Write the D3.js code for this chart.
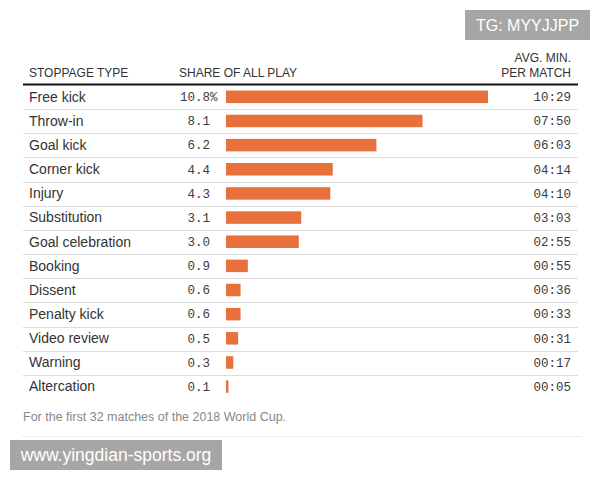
<!DOCTYPE html>
<html>
<head>
<meta charset="utf-8">
<script src="https://cdn.jsdelivr.net/npm/d3@7"></script>
<style>
  body { margin: 0; background: #fff; }
  svg { display: block; }
</style>
</head>
<body>
<div class="chart"></div>
<script>
// Data
var types = ["Free kick", "Throw-in", "Goal kick", "Corner kick", "Injury", "Substitution",
  "Goal celebration", "Booking", "Dissent", "Penalty kick", "Video review", "Warning", "Altercation"];
var shares = [10.8, 8.1, 6.2, 4.4, 4.3, 3.1, 3.0, 0.9, 0.6, 0.6, 0.5, 0.3, 0.1];
var avgTimes = ["10:29", "07:50", "06:03", "04:14", "04:10", "03:03", "02:55",
  "00:55", "00:36", "00:33", "00:31", "00:17", "00:05"];

var svgWidth = 600;
var svgHeight = 480;

var sans = "'Liberation Sans', Arial, sans-serif";
var mono = "'Liberation Mono', 'DejaVu Sans Mono', monospace";

var svg = d3.select(".chart")
  .append("svg")
  .attr("width", svgWidth)
  .attr("height", svgHeight);

var rows = types.map(function(t, i) {
  return { type: t, share: shares[i], time: avgTimes[i], idx: i };
});

// Scales
var yScale = d3.scaleBand()
  .domain(types)
  .range([85, 85 + types.length * 24.15]);

var xScale = d3.scaleLinear()
  .domain([0, 10.8])
  .range([226, 488]);

var left = 23, right = 578;
var mid = d => yScale(d.type) + yScale.bandwidth() / 2 - 0.5;

// Column headers
var header = svg.append("g")
  .attr("font-family", sans)
  .attr("font-size", "12px")
  .attr("fill", "#333");

header.append("text").attr("x", 29).attr("y", 77).text("STOPPAGE TYPE");
header.append("text").attr("x", 179).attr("y", 77).text("SHARE OF ALL PLAY");
header.append("text").attr("x", 571).attr("y", 62).attr("text-anchor", "end").text("AVG. MIN.");
header.append("text").attr("x", 571).attr("y", 77).attr("text-anchor", "end").text("PER MATCH");

// Row separators
svg.selectAll("line.sep")
  .data(rows.slice(0, rows.length - 1))
  .enter()
  .append("line")
  .attr("class", "sep")
  .attr("x1", left)
  .attr("x2", right)
  .attr("y1", d => Math.round(yScale(d.type) + yScale.bandwidth()) + 0.5)
  .attr("y2", d => Math.round(yScale(d.type) + yScale.bandwidth()) + 0.5)
  .attr("stroke", "#dcdcdc")
  .attr("stroke-width", 1);

// Header rule
svg.append("line")
  .attr("x1", left)
  .attr("x2", right)
  .attr("y1", 84.5)
  .attr("y2", 84.5)
  .attr("stroke", "#111")
  .attr("stroke-width", 2);

// Bars
svg.selectAll("rect.bar")
  .data(rows)
  .enter()
  .append("rect")
  .attr("class", "bar")
  .attr("x", xScale(0))
  .attr("y", d => mid(d) - 6)
  .attr("width", d => xScale(d.share) - xScale(0))
  .attr("height", 12.5)
  .attr("fill", "#e8703a");

// Type labels
svg.selectAll("text.type")
  .data(rows)
  .enter()
  .append("text")
  .attr("class", "type")
  .attr("x", 29)
  .attr("y", mid)
  .attr("dy", "0.36em")
  .attr("font-family", sans)
  .attr("font-size", "14px")
  .attr("fill", "#333")
  .text(d => d.type);

// Share values
svg.selectAll("text.share")
  .data(rows)
  .enter()
  .append("text")
  .attr("class", "share")
  .attr("x", 210)
  .attr("y", mid)
  .attr("dy", "0.36em")
  .attr("text-anchor", "end")
  .attr("font-family", mono)
  .attr("font-size", "12.5px")
  .attr("fill", "#3c3c3c")
  .text(d => d.share.toFixed(1));

svg.append("text")
  .attr("x", 210)
  .attr("y", mid(rows[0]))
  .attr("dy", "0.36em")
  .attr("font-family", mono)
  .attr("font-size", "12.5px")
  .attr("fill", "#3c3c3c")
  .text("%");

// Avg minutes
svg.selectAll("text.time")
  .data(rows)
  .enter()
  .append("text")
  .attr("class", "time")
  .attr("x", 571)
  .attr("y", mid)
  .attr("dy", "0.36em")
  .attr("text-anchor", "end")
  .attr("font-family", mono)
  .attr("font-size", "12.5px")
  .attr("fill", "#3c3c3c")
  .text(d => d.time);

// Footnote
svg.append("text")
  .attr("x", 23)
  .attr("y", 421)
  .attr("font-family", sans)
  .attr("font-size", "12.5px")
  .attr("fill", "#888")
  .text("For the first 32 matches of the 2018 World Cup.");

svg.append("line")
  .attr("x1", 22)
  .attr("x2", 582)
  .attr("y1", 436.5)
  .attr("y2", 436.5)
  .attr("stroke", "#ececec");

// Watermarks
svg.append("rect")
  .attr("x", 465).attr("y", 10).attr("width", 125).attr("height", 30)
  .attr("fill", "#a6a6a6");
svg.append("text")
  .attr("x", 527.5).attr("y", 31)
  .attr("text-anchor", "middle")
  .attr("font-family", sans)
  .attr("font-size", "16px")
  .attr("fill", "#fff")
  .text("TG: MYYJJPP");

svg.append("rect")
  .attr("x", 10).attr("y", 440).attr("width", 212).attr("height", 30)
  .attr("fill", "#a6a6a6");
svg.append("text")
  .attr("x", 116).attr("y", 461)
  .attr("text-anchor", "middle")
  .attr("font-family", sans)
  .attr("font-size", "17.5px")
  .attr("fill", "#fff")
  .text("www.yingdian-sports.org");
</script>
</body>
</html>
